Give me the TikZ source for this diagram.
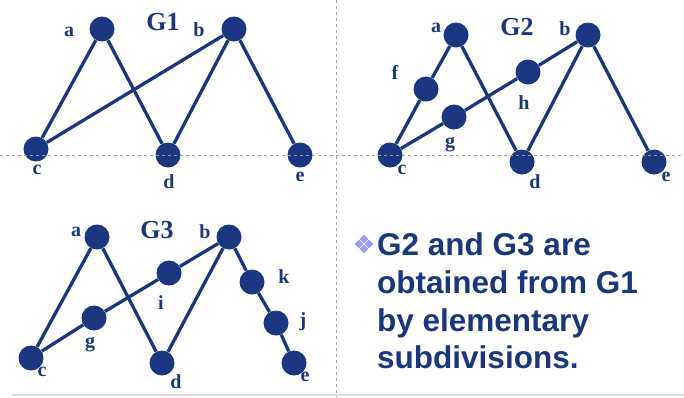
\documentclass[tikz,border=0pt]{standalone}
\usepackage{fontspec}
\setmainfont{Liberation Serif}
\newfontfamily\arialfont{Liberation Sans}
\usepackage{tikz}
\usetikzlibrary{shapes.geometric}
\definecolor{graphBlue}{RGB}{27, 54, 128}
\definecolor{bulletLilac}{RGB}{153, 153, 255}
\definecolor{guideGray}{RGB}{160, 160, 160}
\definecolor{ruleGray}{RGB}{221, 221, 221}

\begin{document}
\begin{tikzpicture}[x=1pt, y=-1pt]
    % Define styles
    \tikzstyle{vertex} = [circle, fill=graphBlue, inner sep=0pt, minimum size=25pt]
    \tikzstyle{vname} = [text=graphBlue, font=\bfseries\fontsize{20}{20}\selectfont, inner sep=0pt]
    \tikzstyle{title} = [text=graphBlue, font=\bfseries\fontsize{26}{26}\selectfont, inner sep=0pt]
    \tikzstyle{edge} = [graphBlue, line width=3.3pt]
    \tikzstyle{guide} = [guideGray, line width=0.8pt, dash pattern=on 3pt off 3pt]
    \tikzstyle{claim} = [text=graphBlue, font=\arialfont\bfseries\fontsize{31.5}{31.5}\selectfont, inner sep=0pt, anchor=base west]
    \tikzstyle{petal} = [diamond, fill=bulletLilac, inner sep=0pt, minimum size=9pt]

    \useasboundingbox (0,0) rectangle (684,397);

    % G1
    \node [title] (t1) at (163,22) {G1};
    \node [vertex] (a1) at (102,29) {};
    \node [vertex] (b1) at (234,29) {};
    \node [vertex] (c1) at (36,149) {};
    \node [vertex] (d1) at (168,155) {};
    \node [vertex] (e1) at (300,155) {};
    \node [vname] (la1) at (69,32) {a};
    \node [vname] (lb1) at (199,30) {b};
    \node [vname] (lc1) at (37,170) {c};
    \node [vname] (ld1) at (169,182) {d};
    \node [vname] (le1) at (300,177) {e};
    \draw [edge] (a1) -- (c1);
    \draw [edge] (a1) -- (d1);
    \draw [edge] (b1) -- (c1);
    \draw [edge] (b1) -- (d1);
    \draw [edge] (b1) -- (e1);

    % G2
    \node [title] (t2) at (517,27) {G2};
    \node [vertex] (a2) at (456,35) {};
    \node [vertex] (b2) at (588,35) {};
    \node [vertex] (c2) at (390,155) {};
    \node [vertex] (d2) at (522,162) {};
    \node [vertex] (e2) at (654,162) {};
    \node [vertex] (f2) at (426,89) {};
    \node [vertex] (g2) at (454,117) {};
    \node [vertex] (h2) at (528,72) {};
    \node [vname] (la2) at (436,28) {a};
    \node [vname] (lb2) at (565,29) {b};
    \node [vname] (lc2) at (402,170) {c};
    \node [vname] (ld2) at (535,182) {d};
    \node [vname] (le2) at (666,177) {e};
    \node [vname] (lf2) at (395,72) {f};
    \node [vname] (lg2) at (450,145) {g};
    \node [vname] (lh2) at (524,103) {h};
    \draw [edge] (a2) -- (f2);
    \draw [edge] (f2) -- (c2);
    \draw [edge] (a2) -- (d2);
    \draw [edge] (c2) -- (g2);
    \draw [edge] (g2) -- (h2);
    \draw [edge] (h2) -- (b2);
    \draw [edge] (b2) -- (d2);
    \draw [edge] (b2) -- (e2);

    % G3
    \node [title] (t3) at (157,230) {G3};
    \node [vertex] (a3) at (97,237) {};
    \node [vertex] (b3) at (229,237) {};
    \node [vertex] (c3) at (31,358) {};
    \node [vertex] (d3) at (162,363) {};
    \node [vertex] (e3) at (294,363) {};
    \node [vertex] (g3) at (94,318) {};
    \node [vertex] (i3) at (169,273) {};
    \node [vertex] (k3) at (252,282) {};
    \node [vertex] (j3) at (276,323) {};
    \node [vname] (la3) at (76,232) {a};
    \node [vname] (lb3) at (205,232) {b};
    \node [vname] (lc3) at (42,372) {c};
    \node [vname] (ld3) at (176,382) {d};
    \node [vname] (le3) at (305,377) {e};
    \node [vname] (lg3) at (90,345) {g};
    \node [vname] (li3) at (161,303) {i};
    \node [vname] (lk3) at (284,277) {k};
    \node [vname] (lj3) at (303,322) {j};
    \draw [edge] (a3) -- (c3);
    \draw [edge] (a3) -- (d3);
    \draw [edge] (c3) -- (g3);
    \draw [edge] (g3) -- (i3);
    \draw [edge] (i3) -- (b3);
    \draw [edge] (b3) -- (d3);
    \draw [edge] (b3) -- (k3);
    \draw [edge] (k3) -- (j3);
    \draw [edge] (j3) -- (e3);

    % Statement with its bullet
    \foreach \dx/\dy in {0/-5, 0/5, -5/0, 5/0}
        \node [petal] at (364+\dx,244+\dy) {};
    \node [claim] (s1) at (377,255) {G2 and G3 are};
    \node [claim] (s2) at (377,293) {obtained from G1};
    \node [claim] (s3) at (377,331) {by elementary};
    \node [claim] (s4) at (377,368) {subdivisions.};

    % Guide lines
    \coordinate (hl) at (0,155);
    \coordinate (hr) at (684,155);
    \coordinate (vt) at (336,0);
    \coordinate (vb) at (336,397);
    \coordinate (rl) at (12,395);
    \coordinate (rr) at (684,395);
    \draw [ruleGray, line width=2.5pt] (rl) -- (rr);
    \draw [guide] (hl) -- (hr);
    \draw [guide] (vt) -- (vb);
\end{tikzpicture}
\end{document}
